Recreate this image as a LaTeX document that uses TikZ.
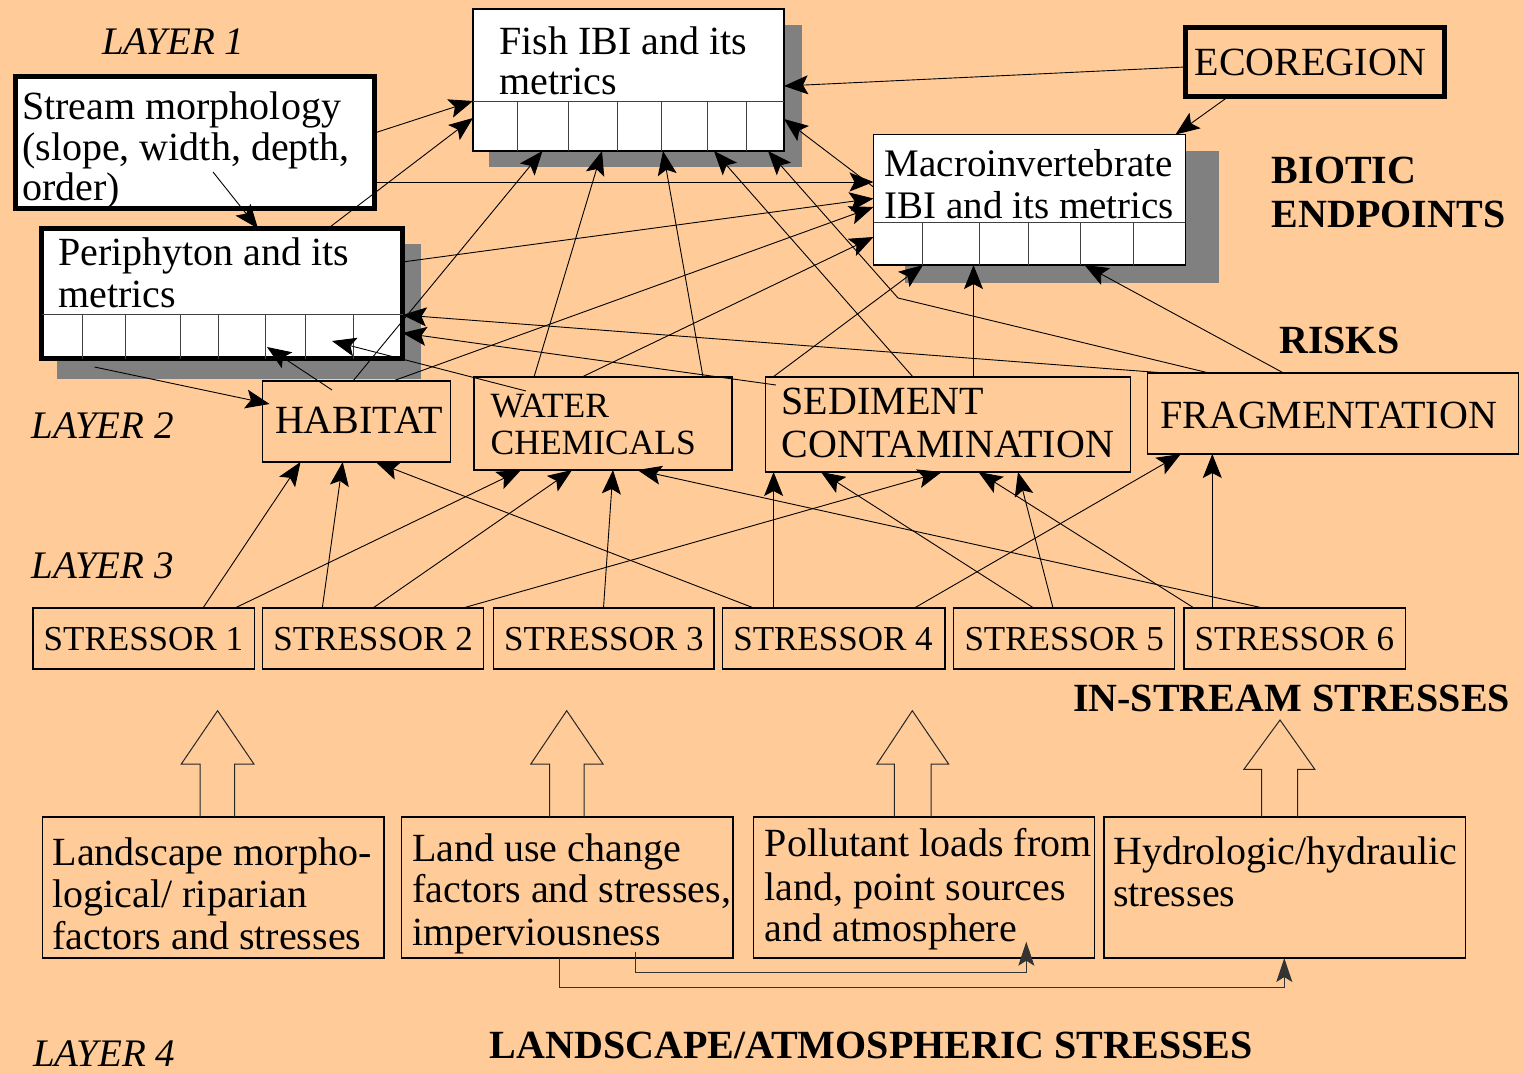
\documentclass[tikz,border=0pt]{standalone}
\usepackage{fontspec}
\setmainfont{Liberation Serif}
\usetikzlibrary{arrows.meta,calc}
\definecolor{bg}{HTML}{FFCC99}
\definecolor{shad}{HTML}{808080}
\begin{document}
\begin{tikzpicture}[x=1pt,y=-1pt,
  box/.style={draw, line width=1.2pt, inner sep=0pt, outer sep=0pt},
  heavybox/.style={draw, line width=5pt, inner sep=0pt, outer sep=0pt},
  cell/.style={draw=black!75, line width=1pt},
  arr/.style={line width=0.9pt, -{Stealth[length=24pt,width=19pt,inset=5pt]}},
  elbow/.style={draw=black!80, line width=1pt, -{Stealth[length=24pt,width=16pt,inset=5pt]}},
  blockarr/.style={draw=black!85, line width=1pt, line join=miter},
  txt/.style={anchor=base west, inner sep=0pt, font=\fontsize{40}{42}\selectfont},
  txtsm/.style={anchor=base west, inner sep=0pt, font=\fontsize{35.5}{38}\selectfont},
  layer/.style={anchor=base west, inner sep=0pt, font=\fontsize{39}{42}\selectfont\itshape},
  head/.style={anchor=base west, inner sep=0pt, font=\fontsize{40}{42}\selectfont\bfseries}]

\useasboundingbox (0,0) rectangle (1524,1073);
\fill[bg] (0,0) rectangle (1524,1073);

% ---------- shadows ----------
\fill[shad] (489,25) rectangle (802,167);
\fill[shad] (905,151) rectangle (1219,283);
\fill[shad] (57,244) rectangle (421,379);

% ---------- layer 1 boxes ----------
\node[box, fill=white, minimum width=311pt, minimum height=142pt] (fish) at (628.5,80) {};
\draw[cell] (fish.west |- 0,101) -- (fish.east |- 0,101);
\foreach \x in {517.5,568.5,617.4,661.4,707.9,746.5}
  \draw[cell] (\x,101) -- (\x,0 |- fish.south);
\node[txt] (fisht1) at (499,55) {Fish IBI and its};
\node[txt] (fisht2) at (499,95) {metrics};

\node[box, fill=white, minimum width=311.8pt, minimum height=130.5pt] (macro) at (1029.4,199.8) {};
\draw[cell] (macro.west |- 0,222.5) -- (macro.east |- 0,222.5);
\foreach \x in {922.7,979,1028,1080,1133.6}
  \draw[cell] (\x,222.5) -- (\x,0 |- macro.south);
\node[txt, font=\fontsize{39}{42}\selectfont] (macrot1) at (884.6,176) {Macroinvertebrate};
\node[txt, font=\fontsize{39}{42}\selectfont] (macrot2) at (884.6,218) {IBI and its metrics};

\node[heavybox, fill=bg, minimum width=259pt, minimum height=69pt] (eco) at (1314.7,62) {};
\node[txt] (ecot) at (1194.6,76) {ECOREGION};

\node[heavybox, fill=white, minimum width=359pt, minimum height=132pt] (stream) at (195,142.5) {};
\node[txt] (streamt1) at (22,119) {Stream morphology};
\node[txt] (streamt2) at (22,160) {(slope, width, depth,};
\node[txt] (streamt3) at (22,200) {order)};

\node[heavybox, fill=white, minimum width=361pt, minimum height=130pt] (peri) at (222,293.5) {};
\draw[cell] (peri.west |- 0,314) -- (peri.east |- 0,314);
\foreach \x in {82.3,125.3,180,218.7,265.7,305.3,353.3}
  \draw[cell] (\x,314) -- (\x,0 |- peri.south);
\node[txt] (perit1) at (58,265) {Periphyton and its};
\node[txt] (perit2) at (58,307) {metrics};

% ---------- layer 2 boxes ----------
\node[box, minimum width=187.7pt, minimum height=81pt] (habitat) at (356.4,421.5) {};
\node[txt] (habitatt) at (274.8,433) {HABITAT};
\node[box, minimum width=258pt, minimum height=93pt] (water) at (603,423.5) {};
\node[txtsm] (watert1) at (490.5,417) {WATER};
\node[txtsm] (watert2) at (490.5,454) {CHEMICALS};
\node[box, minimum width=364.7pt, minimum height=95pt] (sediment) at (948,424.5) {};
\node[txt] (sedt1) at (781.5,414) {SEDIMENT};
\node[txt] (sedt2) at (781.5,457) {CONTAMINATION};
\node[box, minimum width=370.8pt, minimum height=81pt] (frag) at (1333.1,413.5) {};
\node[txt] (fragt) at (1160,428) {FRAGMENTATION};

% ---------- layer 3 boxes ----------
\foreach \n/\c/\w/\lx in {1/143.75/221.5/43.5, 2/373.25/221.1/273.2, 3/603.75/220.5/504, 4/833.75/222.3/733.1, 5/1064.15/220.7/964.3, 6/1294.6/221.2/1194.5}{
  \node[box, minimum width=\w pt, minimum height=61pt] (s\n) at (\c,638.5) {};
  \node[txtsm, font=\fontsize{35}{38}\selectfont] (s\n t) at (\lx,650.7) {STRESSOR \n};
}

% ---------- layer 4 boxes ----------
\node[box, minimum width=341.3pt, minimum height=141pt] (landscape) at (213.35,887.5) {};
\node[txt] (lst1) at (52.4,865) {Landscape morpho-};
\node[txt] (lst2) at (52.4,907.7) {logical/ riparian};
\node[txt] (lst3) at (52.4,949.3) {factors and stresses};
\node[box, minimum width=331.6pt, minimum height=141pt] (landuse) at (567.2,887.5) {};
\node[txt] (lut1) at (412,861.7) {Land use change};
\node[txt] (lut2) at (412,902.7) {factors and stresses,};
\node[txt] (lut3) at (412,945) {imperviousness};
\node[box, minimum width=341pt, minimum height=141pt] (pollutant) at (924.1,887.5) {};
\node[txt] (plt1) at (764.6,856.7) {Pollutant loads from};
\node[txt] (plt2) at (764.6,900) {land, point sources};
\node[txt] (plt3) at (764.6,941.7) {and atmosphere};
\node[box, minimum width=361.6pt, minimum height=141pt] (hydro) at (1284.8,887.5) {};
\node[txt] (hyt1) at (1113,864) {Hydrologic/hydraulic};
\node[txt] (hyt2) at (1113,906.7) {stresses};

% ---------- block arrows ----------
\draw[blockarr] (200.2,817) -- (200.2,764) -- (181.3,764) -- (217.6,710.7) -- (253.9,764) -- (234.6,764) -- (234.6,817);
\draw[blockarr] (549.7,817) -- (549.7,764) -- (530.8,764) -- (566.7,710.7) -- (603,764) -- (584,764) -- (584,817);
\draw[blockarr] (894.4,817) -- (894.4,764) -- (877,764) -- (912.3,710.7) -- (948.6,764) -- (931.2,764) -- (931.2,817);
\draw[blockarr] (1261.7,817) -- (1261.7,769.3) -- (1243.9,769.3) -- (1280,720) -- (1314.8,769.3) -- (1297.5,769.3) -- (1297.5,817);

% ---------- labels ----------
\node[layer] (lay1) at (102,55) {LAYER 1};
\node[layer] (lay2) at (31.5,438) {LAYER 2};
\node[layer] (lay3) at (31.5,578) {LAYER 3};
\node[layer] (lay4) at (33,1066) {LAYER 4};
\node[head] (biotic1) at (1271.7,183) {BIOTIC};
\node[head] (biotic2) at (1271.7,227) {ENDPOINTS};
\node[head] (risks) at (1279,353) {RISKS};
\node[head] (instream) at (1073,711.7) {IN-STREAM STRESSES};
\node[head] (landatm) at (489.6,1058) {LANDSCAPE/ATMOSPHERIC STRESSES};

% ---------- connectors among layer 1 ----------
\draw[arr] (stream.east |- 0,133) -- (fish.west |- 0,101);
\draw[arr] (328,0 |- peri.north) -- (fish.west |- 0,118);
\draw[arr] (stream.east |- 0,182) -- (macro.west |- 0,182);
\draw[arr] (peri.east |- 0,262) -- (macro.west |- 0,198.5);
\draw[arr] (macro.west |- 0,187) -- (fish.east |- 0,119);
\draw[arr] (eco.west |- 0,67) -- (fish.east |- 0,86);
\draw[arr] (1228.5,0 |- eco.south) -- (1175.5,0 |- macro.north);
\draw[arr] ($(stream.center)+(18,29.5)$) -- (258,0 |- peri.north);

% ---------- layer 2 to layer 1 ----------
\draw[arr] (393,0 |- habitat.north) -- (macro.west |- 0,207);
\draw[arr] (582,0 |- water.north) -- (macro.west |- 0,237);
\draw[arr] (353,0 |- habitat.north) -- (542.5,0 |- fish.south);
\draw[arr] (534,0 |- water.north) -- (602,0 |- fish.south);
\draw[arr] (703,0 |- water.north) -- (663,0 |- fish.south);
\draw[arr] (913,0 |- sediment.north) -- (714,0 |- fish.south);
\coordinate (kink) at (898,298);
\draw[arr] (1209,0 |- frag.north) -- (kink) -- (768,0 |- fish.south);
\draw[arr] (1165,0 |- frag.north) -- (peri.east |- 0,315);
\draw[arr] ($(sediment.north west)+(10.3,8)$) -- (peri.east |- 0,333);
\draw[arr] ($(water.north west)+(52,14)$) -- ($(peri.south west)+(290.5,-17.5)$);
\draw[arr] ($(habitat.north west)+(69.5,9)$) -- ($(peri.south west)+(225.5,-11.5)$);
\draw[arr] ($(peri.south west)+(53,8.5)$) -- ($(habitat.west |- 0,404)+(7,0)$);
\draw[arr] (773,0 |- sediment.north) -- (923,0 |- macro.south);
\draw[arr] (973.5,0 |- sediment.north) -- (973.5,0 |- macro.south);
\draw[arr] (1283.5,0 |- frag.north) -- (1084.5,0 |- macro.south);

% ---------- layer 3 to layer 2 ----------
\draw[arr] (203,0 |- s1.north) -- (300.5,0 |- habitat.south);
\draw[arr] (322.3,0 |- s2.north) -- (342.7,0 |- habitat.south);
\draw[arr] (753.8,0 |- s4.north) -- (375.7,0 |- habitat.south);
\draw[arr] (235,0 |- s1.north) -- (521,0 |- water.south);
\draw[arr] (373,0 |- s2.north) -- (572,0 |- water.south);
\draw[arr] (603.5,0 |- s3.north) -- (613,0 |- water.south);
\draw[arr] (1263,0 |- s6.north) -- (637.5,0 |- water.south);
\draw[arr] (463,0 |- s2.north) -- (941.7,0 |- sediment.south);
\draw[arr] (773.6,0 |- s4.north) -- (773.6,0 |- sediment.south);
\draw[arr] (1033.7,0 |- s5.north) -- (821,0 |- sediment.south);
\draw[arr] (1194,0 |- s6.north) -- (978.5,0 |- sediment.south);
\draw[arr] (1053,0 |- s5.north) -- (1018,0 |- sediment.south);
\draw[arr] (914.4,0 |- s4.north) -- (1180.8,0 |- frag.south);
\draw[arr] (1212.3,0 |- s6.north) -- (1212.3,0 |- frag.south);

% ---------- layer 4 elbows ----------
\draw[elbow] (559,0 |- landuse.south) -- ++(0,29) -| (1284.3,0 |- hydro.south);
\draw[elbow] ($(landuse.south west)+(233.6,-6)$) -- ++(0,20.5) -| ($(pollutant.south west)+(272.7,-16.3)$);

\end{tikzpicture}
\end{document}
